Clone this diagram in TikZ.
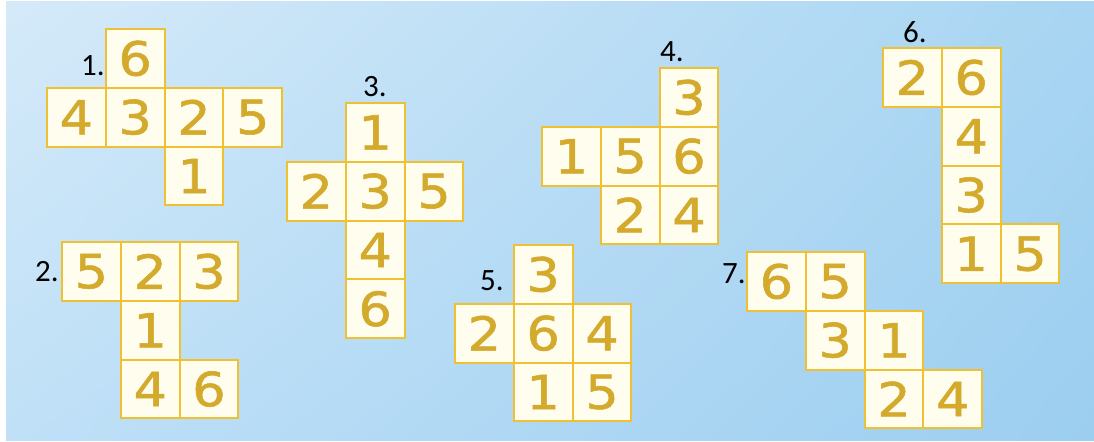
\documentclass[tikz,border=0pt]{standalone}
\usepackage{fontspec}
\usetikzlibrary{shadings}
\newfontfamily\digitfont[FakeStretch=1.12,FakeBold=1.2]{DejaVu Sans}
\newfontfamily\labelfont{Carlito}
\definecolor{bgA}{HTML}{D5EAF9}
\definecolor{bgB}{HTML}{A8D5F2}
\definecolor{bgC}{HTML}{BFE0F7}
\definecolor{bgD}{HTML}{9CCEF0}
\definecolor{cellline}{HTML}{F0C033}
\definecolor{cellfill}{HTML}{FFFDEE}
\definecolor{digit}{HTML}{D4AA2C}
\begin{document}
\begin{tikzpicture}[x=0.5pt,y=-0.5pt,
  cell/.style={draw=cellline, line width=1pt, fill=cellfill, minimum size=29.4pt,
    inner sep=0pt, text=digit, font=\digitfont\fontsize{23.5}{23.5}\selectfont},
  netlabel/.style={inner sep=0pt, text=black, font=\labelfont\fontsize{15.5}{15.5}\selectfont}]
\useasboundingbox (0,0) rectangle (1094,441);
\shade[upper left=bgA, upper right=bgB, lower left=bgC, lower right=bgD] (6,1) rectangle (1094,440);

% Net 1
\node[cell] (n1a) at (135.2,58.4) {6};
\node[cell] (n1b) at (76.4,117.2) {4};
\node[cell] (n1c) at (135.2,117.2) {3};
\node[cell] (n1d) at (194.0,117.2) {2};
\node[cell] (n1e) at (252.8,117.2) {5};
\node[cell] (n1f) at (194.0,176.0) {1};
\node[netlabel] (l1) at (93,66) {1.};

% Net 2
\node[cell] (n2a) at (91.4,271.4) {5};
\node[cell] (n2b) at (150.2,271.4) {2};
\node[cell] (n2c) at (209.0,271.4) {3};
\node[cell] (n2d) at (150.2,330.2) {1};
\node[cell] (n2e) at (150.2,389.0) {4};
\node[cell] (n2f) at (209.0,389.0) {6};
\node[netlabel] (l2) at (47,272) {2.};

% Net 3
\node[cell] (n3a) at (375.2,132.4) {1};
\node[cell] (n3b) at (316.4,191.2) {2};
\node[cell] (n3c) at (375.2,191.2) {3};
\node[cell] (n3d) at (434.0,191.2) {5};
\node[cell] (n3e) at (375.2,250.0) {4};
\node[cell] (n3f) at (375.2,308.8) {6};
\node[netlabel] (l3) at (375,87) {3.};

% Net 4
\node[cell] (n4a) at (689.0,97.4) {3};
\node[cell] (n4b) at (571.4,156.2) {1};
\node[cell] (n4c) at (630.2,156.2) {5};
\node[cell] (n4d) at (689.0,156.2) {6};
\node[cell] (n4e) at (630.2,215.0) {2};
\node[cell] (n4f) at (689.0,215.0) {4};
\node[netlabel] (l4) at (672,52) {4.};

% Net 5
\node[cell] (n5a) at (543.2,274.4) {3};
\node[cell] (n5b) at (484.4,333.2) {2};
\node[cell] (n5c) at (543.2,333.2) {6};
\node[cell] (n5d) at (602.0,333.2) {4};
\node[cell] (n5e) at (543.2,392.0) {1};
\node[cell] (n5f) at (602.0,392.0) {5};
\node[netlabel] (l5) at (492,281) {5.};

% Net 6
\node[cell] (n6a) at (912.4,77.4) {2};
\node[cell] (n6b) at (971.2,77.4) {6};
\node[cell] (n6c) at (971.2,136.2) {4};
\node[cell] (n6d) at (971.2,195.0) {3};
\node[cell] (n6e) at (971.2,253.8) {1};
\node[cell] (n6f) at (1030.0,253.8) {5};
\node[netlabel] (l6) at (915,32) {6.};

% Net 7
\node[cell] (n7a) at (776.4,281.4) {6};
\node[cell] (n7b) at (835.2,281.4) {5};
\node[cell] (n7c) at (835.2,340.2) {3};
\node[cell] (n7d) at (894.0,340.2) {1};
\node[cell] (n7e) at (894.0,399.0) {2};
\node[cell] (n7f) at (952.8,399.0) {4};
\node[netlabel] (l7) at (734,274) {7.};
\end{tikzpicture}
\end{document}
